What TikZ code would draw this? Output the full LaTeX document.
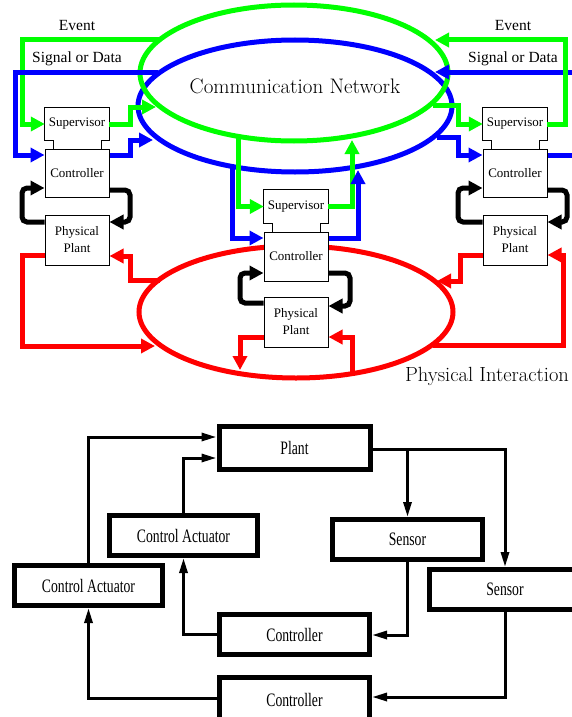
\documentclass[tikz,border=0pt]{standalone}
\usepackage{fontspec}
\usetikzlibrary{arrows.meta,calc}
\newfontfamily\tnr{Liberation Serif}
\newfontfamily\cond[FakeStretch=0.72]{Liberation Serif}
\definecolor{gn}{RGB}{0,255,0}
\definecolor{bl}{RGB}{0,0,255}
\definecolor{rd}{RGB}{255,0,0}
\newcommand\supline[2]{%
  \coordinate (#1a) at ($(#1.south west)+(9,0)$);
  \coordinate (#1b) at ($(#1.south east)+(-8,0)$);
  \draw[line width=1pt] (#1a |- #2.north) -- (#1a) -- (#1.south west) -- (#1.north west) -- (#1.north east) -- (#1.south east) -- (#1b) -- (#1b |- #2.north);}
\begin{document}
\begin{tikzpicture}[x=1pt,y=-1pt,
  tbox/.style={draw, fill=white, line width=1pt, minimum width=64pt, inner sep=0pt, align=center,
    font=\tnr\fontsize{13}{17}\selectfont},
  supbox/.style={fill=white, minimum width=64pt, minimum height=33pt, inner sep=0pt,
    font=\tnr\fontsize{13}{17}\selectfont},
  carr/.style={line width=5pt, -{Triangle[length=14pt,width=14pt]}},
  cline/.style={line width=5pt},
  karr/.style={carr, black, rounded corners=5pt},
  bbox/.style={draw, line width=5pt, fill=white, inner sep=0pt, font=\cond\fontsize{19}{20}\selectfont},
  barr/.style={line width=3pt, -{Triangle[length=15pt,width=8pt]}},
  lbl/.style={font=\tnr\fontsize{15.5}{18}\selectfont, inner sep=0pt},
  big/.style={font=\fontsize{21}{24}\selectfont, inner sep=0pt}
]
\fill[white] (0,0) rectangle (571,717);
\useasboundingbox (0,0) rectangle (571,717);

% ---------- top: ellipses ----------
\draw[bl, cline] (295,106) ellipse [x radius=157, y radius=66];
\draw[gn, cline] (294,73) ellipse [x radius=154, y radius=68];
\draw[rd, cline] (296,312) ellipse [x radius=157, y radius=66];
\node[big] (cn) at (295,86) {Communication Network};
\node[big, font=\fontsize{20.5}{24}\selectfont] (pi) at (487,376) {Physical Interaction};

\node[lbl] (ev1) at (77,26) {Event};
\node[lbl] (sd1) at (77,59) {Signal or Data};
\node[lbl] (ev2) at (513,26) {Event};
\node[lbl] (sd2) at (513,59) {Signal or Data};

% ---------- top: boxes ----------
\node[supbox] (s1) at (77,124) {Supervisor};
\node[tbox, minimum height=48pt] (c1) at (77,173) {Controller};
\node[tbox, minimum height=50pt] (p1) at (77,240) {Physical\\Plant};
\supline{s1}{c1}

\node[supbox] (s2) at (296,206.5) {Supervisor};
\node[tbox, minimum height=49pt] (c2) at (296,256.5) {Controller};
\node[tbox, minimum height=50pt] (p2) at (296,322) {Physical\\Plant};
\supline{s2}{c2}

\node[supbox] (s3) at (515,124) {Supervisor};
\node[tbox, minimum height=48pt] (c3) at (515,173) {Controller};
\node[tbox, minimum height=50pt] (p3) at (515,240) {Physical\\Plant};
\supline{s3}{c3}

% ---------- free ends on the ellipses ----------
\coordinate (gE1) at (159,40);
\coordinate (bS1) at (158,72);
\coordinate (gT1) at (156,107);
\coordinate (bT1) at (153,140);
\coordinate (rT1) at (155,346);
\coordinate (rS1) at (160,280);
\coordinate (gS2) at (238,136);
\coordinate (bS2) at (232,166);
\coordinate (gT2) at (352,140);
\coordinate (bT2) at (358,170);
\coordinate (rT2) at (240,370);
\coordinate (rS2) at (352,374);
\coordinate (gE3) at (435,40);
\coordinate (bT3) at (435,72);
\coordinate (gS3) at (433,105);
\coordinate (bS3) at (437,137);
\coordinate (rT3) at (437,281);
\coordinate (rS3) at (433,345);

% ---------- left column connectors ----------
\draw[gn, carr] (gE1) -- (22,40) -- (22,124) -- (s1.west);
\draw[bl, carr] (bS1) -- (15,72) -- (15,155) -- (c1.west |- 0,155);
\draw[gn, carr] (s1.east) -- (130,124) -- (130,107) -- (gT1);
\draw[bl, carr] (c1.east |- 0,155) -- (130,155) -- (130,140) -- (bT1);
\draw[karr] (p1.west |- 0,222) -- (22,222) -- (22,188) -- (c1.west |- 0,188);
\draw[karr] (c1.east |- 0,190) -- (130,190) -- (130,222) -- (p1.east |- 0,222);
\draw[rd, carr] (p1.west |- 0,255) -- (22,255) -- (22,346) -- (rT1);
\draw[rd, carr] (rS1) -- (130,280) -- (130,256) -- (p1.east |- 0,256);

% ---------- centre column connectors ----------
\draw[gn, carr] (gS2) -- (238,206.5) -- (s2.west);
\draw[bl, carr] (bS2) -- (232,238) -- (c2.west |- 0,238);
\draw[gn, carr] (s2.east) -- (352,206.5) -- (gT2);
\draw[bl, carr] (c2.east |- 0,238) -- (358,238) -- (bT2);
\draw[karr] (p2.west |- 0,303) -- (240,303) -- (240,273) -- (c2.west |- 0,273);
\draw[karr] (c2.east |- 0,273) -- (350,273) -- (350,306) -- (p2.east |- 0,306);
\draw[rd, carr] (p2.west |- 0,337) -- (240,337) -- (rT2);
\draw[rd, carr] (rS2) -- (352,337) -- (p2.east |- 0,337);

% ---------- right column connectors ----------
\draw[bl, carr] (c3.east |- 0,155) -- (576,155) -- (576,72) -- (bT3);
\draw[gn, carr] (s3.east) -- (565,124) -- (565,40) -- (gE3);
\draw[gn, carr] (gS3) -- (458,105) -- (458,124) -- (s3.west);
\draw[bl, carr] (bS3) -- (458,137) -- (458,155) -- (c3.west |- 0,155);
\draw[karr] (p3.west |- 0,222) -- (458,222) -- (458,188) -- (c3.west |- 0,188);
\draw[karr] (c3.east |- 0,190) -- (567,190) -- (567,222) -- (p3.east |- 0,222);
\draw[rd, carr] (p3.west |- 0,255) -- (460,255) -- (460,281) -- (rT3);
\draw[rd, carr] (rS3) -- (563,345) -- (563,255) -- (p3.east |- 0,255);

% ---------- bottom diagram ----------
\node[bbox, minimum width=151pt, minimum height=43pt] (plant) at (294.5,447.5) {Plant};
\node[bbox, minimum width=148pt, minimum height=40pt] (uact) at (183.5,535.5) {Control Actuator};
\node[bbox, minimum width=148pt, minimum height=40pt] (lact) at (88.5,585.5) {Control Actuator};
\node[bbox, minimum width=150pt, minimum height=40pt] (usen) at (407.5,539.5) {Sensor};
\node[bbox, minimum width=151pt, minimum height=40pt] (lsen) at (505,589.5) {Sensor};
\node[bbox, minimum width=150pt, minimum height=40pt] (uctl) at (294.5,634.5) {Controller};
\node[bbox, minimum width=150pt, minimum height=45pt] (lctl) at (294.5,700) {Controller};

\coordinate (j1) at (usen.north |- 0,449);
\draw[barr] (lact.north) -- (lact.north |- 0,437) -- (plant.west |- 0,437);
\draw[barr] (uact.north) -- (uact.north |- 0,458) -- (plant.west |- 0,458);
\draw[barr] (plant.east |- 0,449) -- (lsen.north |- 0,449) -- (lsen.north);
\draw[barr] (j1) -- (usen.north);
\draw[barr] (usen.south) -- (usen.south |- 0,635) -- (uctl.east |- 0,635);
\draw[barr] (lsen.south) -- (lsen.south |- 0,697) -- (lctl.east |- 0,697);
\draw[barr] (uctl.west) -- (uact.south |- uctl.west) -- (uact.south);
\draw[barr] (lctl.west |- 0,698) -- (lact.south |- 0,698) -- (lact.south);
\end{tikzpicture}
\end{document}
